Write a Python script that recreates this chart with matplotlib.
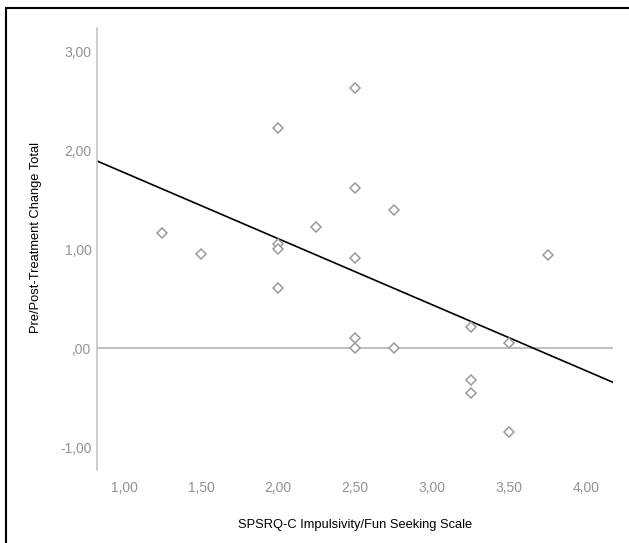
import numpy as np
import matplotlib
matplotlib.use('Agg')
import matplotlib.pyplot as plt
from matplotlib.patches import Rectangle
from matplotlib.ticker import FuncFormatter

# impulsivity / fun seeking score per participant
impulsivity = [1.25, 1.50, 2.00, 2.00, 2.00, 2.00, 2.25, 2.50, 2.50, 2.50,
               2.50, 2.50, 2.75, 2.75, 3.25, 3.25, 3.25, 3.50, 3.50, 3.75]
# pre/post treatment change total
change = [1.17, 0.95, 2.23, 1.06, 1.00, 0.61, 1.23, 2.63, 1.62, 0.91,
          0.11, 0.00, 1.40, 0.00, 0.22, -0.32, -0.45, 0.05, -0.84, 0.94]

xticks = [1.0, 1.5, 2.0, 2.5, 3.0, 3.5, 4.0]
yticks = [-1.0, 0.0, 1.0, 2.0, 3.0]

plt.rcParams['font.family'] = ['Liberation Sans', 'DejaVu Sans']

fig = plt.figure(figsize=(6.29, 5.43), dpi=100)
ax = fig.add_axes([97/629, 73/543, 515.7/629, 442/543])

xlim = (0.825, 4.173)
ylim = (-1.229, 3.239)

# reference line at zero
ax.axhline(0, color='#b4b4b4', lw=1.2, zorder=1)

ax.plot(impulsivity, change, linestyle='none', marker='D', ms=5.5,
        mfc='white', mec='#9a9a9a', mew=1.1, zorder=3)

# linear fit line
slope, intercept = np.polyfit(impulsivity, change, 1)
xs = np.array(xlim)
ax.plot(xs, intercept + slope * xs, color='black', lw=1.2, zorder=2)

ax.set_xlim(*xlim)
ax.set_ylim(*ylim)
ax.set_xticks(xticks)
ax.set_yticks(yticks)

def comma_fmt(v, pos):
    s = '%.2f' % v
    s = s.replace('.', ',')
    if s.startswith('0,'):
        s = s[1:]
    if s == '-,00':
        s = ',00'
    return s

ax.xaxis.set_major_formatter(FuncFormatter(comma_fmt))
ax.yaxis.set_major_formatter(FuncFormatter(comma_fmt))

for side in ['top', 'right', 'bottom']:
    ax.spines[side].set_visible(False)
ax.spines['left'].set_color('#c4c4c4')
ax.spines['left'].set_linewidth(1.2)

ax.tick_params(axis='both', length=0, labelsize=10, labelcolor='#929292')
ax.tick_params(axis='x', pad=8)
ax.tick_params(axis='y', pad=4)

ax.set_xlabel('SPSRQ-C Impulsivity/Fun Seeking Scale', fontsize=9.3, labelpad=17)
ax.set_ylabel('Pre/Post-Treatment Change Total', fontsize=9.3)
ax.yaxis.set_label_coords(-0.106, 0.526)

# outer frame (left and top edges visible)
fig.add_artist(Rectangle((5.5/629, -0.2), 1.5, 1.2 - 7.5/543, transform=fig.transFigure,
                         fill=False, ec='black', lw=1.5))

fig.savefig('out.png', dpi=100)
